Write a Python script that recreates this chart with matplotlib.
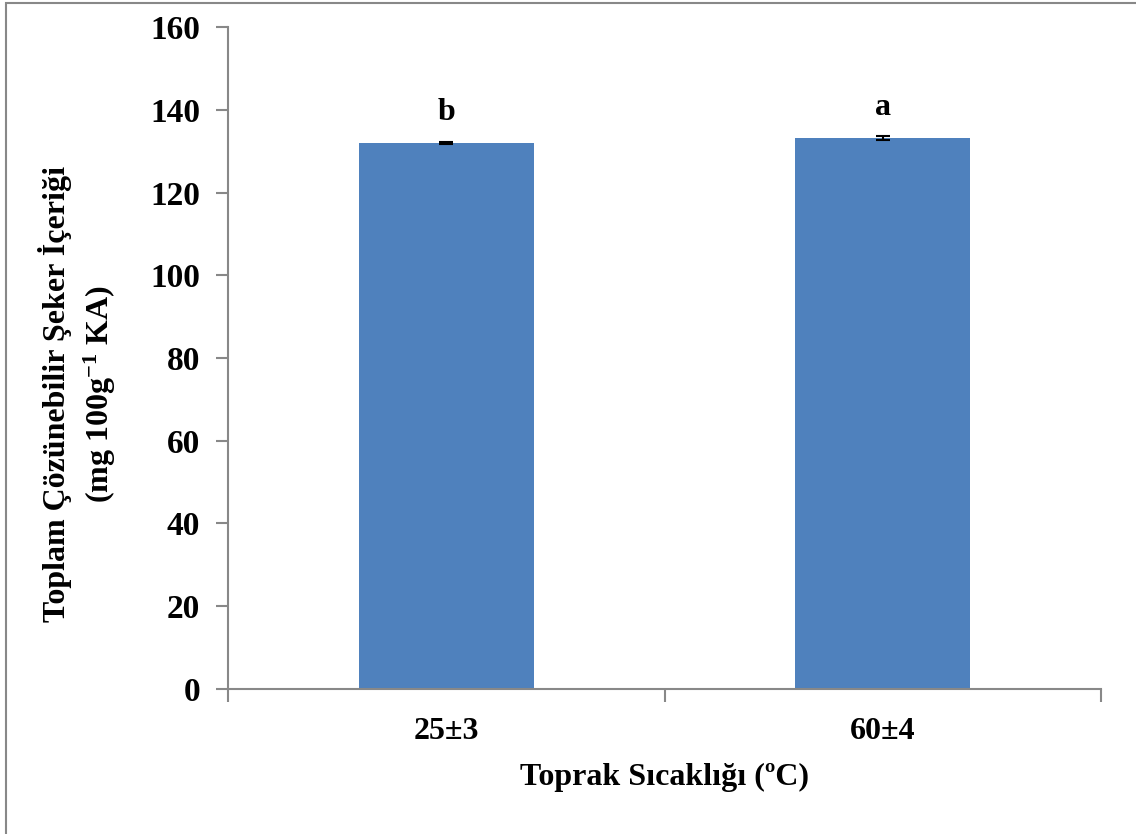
import matplotlib
matplotlib.use('Agg')
import matplotlib.pyplot as plt
from matplotlib.patches import Rectangle

# data
categories = ['25±3', '60±4']
values = [132.0, 133.2]
errors = [0.3, 0.4]
letters = ['b', 'a']

plt.rcParams['font.family'] = ['Liberation Serif', 'DejaVu Serif']
plt.rcParams['font.weight'] = 'bold'
plt.rcParams['mathtext.fontset'] = 'custom'
plt.rcParams['mathtext.rm'] = 'Liberation Serif:bold'
plt.rcParams['mathtext.default'] = 'rm'

fig = plt.figure(figsize=(11.36, 8.34), dpi=100)
ax = fig.add_axes([0.2007, 0.1739, 0.9692 - 0.2007, 0.9676 - 0.1739])

x = list(range(len(categories)))
ax.bar(x, values, width=0.4, color='#4F81BD', zorder=2)
ax.errorbar(x, values, yerr=errors, fmt='none', ecolor='black',
            elinewidth=1.5, capsize=5, capthick=1.5, zorder=3)
for i, (v, e, l) in enumerate(zip(values, errors, letters)):
    ax.text(i, v + e + 3.5, l, ha='center', va='bottom', fontsize=23, fontweight='bold')

ax.set_xlim(-0.5, 1.5)
ax.set_ylim(0, 160)
ax.set_yticks(range(0, 161, 20))
ax.set_xticks([-0.5, 0.5, 1.5], minor=False)
ax.set_xticklabels(['', '', ''])
ax.set_xticks(x, minor=True)
ax.set_xticklabels(categories, minor=True)

for s in ['top', 'right']:
    ax.spines[s].set_visible(False)
for s in ['left', 'bottom']:
    ax.spines[s].set_color('#888888')
    ax.spines[s].set_linewidth(1.5)
ax.tick_params(axis='y', direction='out', length=9, width=1.5, color='#888888',
               labelsize=24, pad=11)
ax.tick_params(axis='x', which='major', direction='out', length=9, width=1.5, color='#888888')
ax.tick_params(axis='x', which='minor', length=0, labelsize=23, pad=20)
for lab in ax.get_yticklabels() + ax.get_xticklabels(minor=True):
    lab.set_fontweight('bold')

ax.set_xlabel('Toprak Sıcaklığı (ºC)', fontsize=23, fontweight='bold', labelpad=12)
ax.set_ylabel('Toplam Çözünebilir Şeker İçeriği\n(mg 100g$^{-1}$ KA)', fontsize=23,
              fontweight='bold', linespacing=1.35)
ax.yaxis.set_label_coords(-0.126, 0.4456)

# outer chart border
fig.patches.append(Rectangle((6 / 1136, -0.1), 1.2, (834 - 3) / 834 + 0.1,
                             transform=fig.transFigure, fill=False,
                             edgecolor='#888888', linewidth=1.5))

fig.savefig('out.png', dpi=100)
